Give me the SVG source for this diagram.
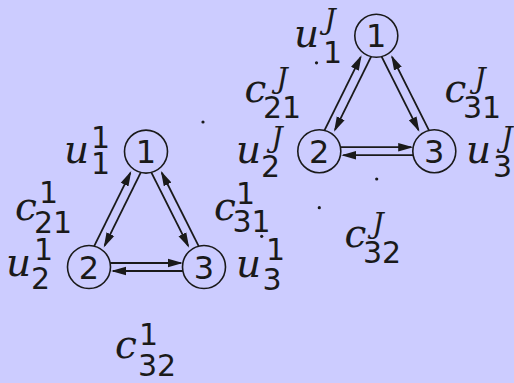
<svg xmlns="http://www.w3.org/2000/svg" width="514" height="383" viewBox="0 0 514 383">
<defs>
<style>
.bg{fill:#ccccff}
.nd{fill:none;stroke:#1a1a1a;stroke-width:1.6}
.nt{font-family:"DejaVu Sans",sans-serif;font-size:32px;fill:#1a1a1a;text-anchor:middle}
.lb{fill:#1a1a1a}
.m{font-family:"DejaVu Serif",serif;font-style:italic;font-size:39px}
.s{font-family:"DejaVu Sans",sans-serif;font-size:30px;font-style:normal}
.j{font-family:"DejaVu Serif",serif;font-style:italic;font-size:28px}
.e{fill:none;stroke:#1a1a1a;stroke-width:1.8;marker-end:url(#ah)}
.dot{fill:#1a1a1a}
</style>
<marker id="ah" markerUnits="userSpaceOnUse" markerWidth="18" markerHeight="12" viewBox="0 -6 18 12" refX="13" refY="0" orient="auto">
<path d="M0,-4.3 L15,0 L0,4.3 Z" fill="#1a1a1a"/>
</marker>
</defs>
<rect class="bg" x="0" y="0" width="514" height="383"/>

<g id="connectors">
<g id="edges-1">
<line class="e" x1="94.18" y1="246.13" x2="130.36" y2="172.88"/>
<line class="e" x1="140.82" y1="172.47" x2="104.64" y2="245.72"/>
<line class="e" x1="198.68" y1="246.17" x2="161.79" y2="172.76"/>
<line class="e" x1="151.32" y1="172.43" x2="188.21" y2="245.84"/>
<line class="e" x1="110.1" y1="263" x2="180.9" y2="263"/>
<line class="e" x1="182.9" y1="271" x2="113" y2="271"/>
</g>
<g id="edges-J" transform="translate(230.3,-115.8)">
<line class="e" x1="94.18" y1="246.13" x2="130.36" y2="172.88"/>
<line class="e" x1="140.82" y1="172.47" x2="104.64" y2="245.72"/>
<line class="e" x1="198.68" y1="246.17" x2="161.79" y2="172.76"/>
<line class="e" x1="151.32" y1="172.43" x2="188.21" y2="245.84"/>
<line class="e" x1="110.1" y1="263" x2="180.9" y2="263"/>
<line class="e" x1="182.9" y1="271" x2="113" y2="271"/>
</g>
</g>

<g id="node-1-1"><circle class="nd" cx="146" cy="151.6" r="21.5"/><text class="nt" x="146" y="163.2">1</text></g>
<g id="node-1-2"><circle class="nd" cx="89" cy="267" r="21.5"/><text class="nt" x="89" y="278.6">2</text></g>
<g id="node-1-3"><circle class="nd" cx="204" cy="267" r="21.5"/><text class="nt" x="204" y="278.6">3</text></g>
<g id="node-J-1"><circle class="nd" cx="376.3" cy="35.8" r="21.5"/><text class="nt" x="376.3" y="47.4">1</text></g>
<g id="node-J-2"><circle class="nd" cx="319.3" cy="151.2" r="21.5"/><text class="nt" x="319.3" y="162.8">2</text></g>
<g id="node-J-3"><circle class="nd" cx="434.3" cy="151.2" r="21.5"/><text class="nt" x="434.3" y="162.8">3</text></g>

<g id="labels-1">
<text id="u11" class="lb"><tspan class="m" x="64" y="163">u</tspan><tspan class="s" x="91" y="148">1</tspan><tspan class="s" x="91" y="174">1</tspan></text>
<text id="c21-1" class="lb"><tspan class="m" x="15" y="220">c</tspan><tspan class="s" x="39" y="203">1</tspan><tspan class="s" x="34" y="233">21</tspan></text>
<text id="u21" class="lb"><tspan class="m" x="6" y="276">u</tspan><tspan class="s" x="34" y="260">1</tspan><tspan class="s" x="31" y="289">2</tspan></text>
<text id="c31-1" class="lb"><tspan class="m" x="214" y="220">c</tspan><tspan class="s" x="236" y="204">1</tspan><tspan class="s" x="232.5" y="232">31</tspan></text>
<text id="u31" class="lb"><tspan class="m" x="236" y="277">u</tspan><tspan class="s" x="266" y="260">1</tspan><tspan class="s" x="262.5" y="290">3</tspan></text>
<text id="c32-1" class="lb"><tspan class="m" x="115" y="358">c</tspan><tspan class="s" x="139" y="345">1</tspan><tspan class="s" x="138" y="376">32</tspan></text>
</g>
<g id="labels-J">
<text id="u1J" class="lb"><tspan class="m" x="294" y="47">u</tspan><tspan class="j" x="324.5" y="29">J</tspan><tspan class="s" x="323" y="63">1</tspan></text>
<text id="c21-J" class="lb"><tspan class="m" x="244.5" y="102">c</tspan><tspan class="j" x="276.5" y="88">J</tspan><tspan class="s" x="263" y="118">21</tspan></text>
<text id="u2J" class="lb"><tspan class="m" x="236" y="163">u</tspan><tspan class="j" x="271.5" y="147">J</tspan><tspan class="s" x="261" y="177">2</tspan></text>
<text id="c31-J" class="lb"><tspan class="m" x="444.5" y="102">c</tspan><tspan class="j" x="474.5" y="88">J</tspan><tspan class="s" x="463" y="118">31</tspan></text>
<text id="u3J" class="lb"><tspan class="m" x="466" y="163">u</tspan><tspan class="j" x="501.5" y="147">J</tspan><tspan class="s" x="493" y="177">3</tspan></text>
<text id="c32-J" class="lb"><tspan class="m" x="344.5" y="247">c</tspan><tspan class="j" x="372.5" y="233">J</tspan><tspan class="s" x="363" y="263">32</tspan></text>
</g>

<g id="dots">
<circle class="dot" cx="203" cy="122" r="1.6"/>
<circle class="dot" cx="316.5" cy="62.8" r="1.6"/>
<circle class="dot" cx="376.7" cy="179" r="1.6"/>
<circle class="dot" cx="319.3" cy="207.7" r="1.6"/>
<circle class="dot" cx="261.7" cy="236.3" r="1.6"/>
</g>
</svg>
